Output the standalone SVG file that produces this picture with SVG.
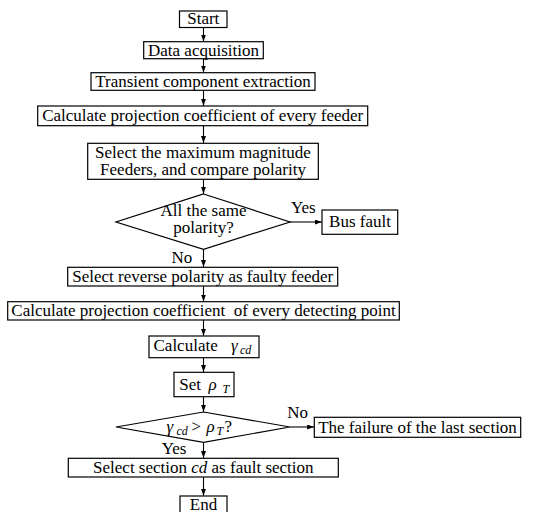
<svg xmlns="http://www.w3.org/2000/svg" width="536" height="512" viewBox="0 0 536 512" font-family="'Liberation Serif', 'Times New Roman', Times, 'DejaVu Serif', serif">
<defs>
<marker id="ah" markerUnits="userSpaceOnUse" markerWidth="8" markerHeight="6" refX="7" refY="2.5" orient="auto">
<path d="M0,0 L7,2.5 L0,5 z" fill="#000"/>
</marker>
</defs>
<style>
rect, polygon { fill: #fff; stroke: #000; stroke-width: 1.2; }
text { font-family: 'Liberation Serif', 'Times New Roman', Times, 'DejaVu Serif', serif; font-size: 17px; fill: #000; }
.c { text-anchor: middle; }
.i { font-style: italic; }
.s { font-size: 12px; font-style: italic; }
#connectors line { stroke: #000; stroke-width: 1.1; marker-end: url(#ah); }
</style>
<rect x="0" y="0" width="536" height="512" style="fill:#fff;stroke:none"/>
<g id="connectors">
<line x1="203.5" y1="27.5" x2="203.5" y2="41.5"/>
<line x1="203.5" y1="58.7" x2="203.5" y2="72.5"/>
<line x1="203.5" y1="90.3" x2="203.5" y2="105.8"/>
<line x1="203.5" y1="125.7" x2="203.5" y2="143.1"/>
<line x1="203.5" y1="179.3" x2="203.5" y2="193.8"/>
<line x1="290" y1="222" x2="321.8" y2="222"/>
<line x1="203.5" y1="249.3" x2="203.5" y2="267.1"/>
<line x1="203.5" y1="286" x2="203.5" y2="301.5"/>
<line x1="203.5" y1="320" x2="203.5" y2="335.8"/>
<line x1="203.5" y1="357.7" x2="203.5" y2="372.1"/>
<line x1="203.5" y1="396.7" x2="203.5" y2="411.8"/>
<line x1="290" y1="427" x2="314.1" y2="427"/>
<line x1="203.5" y1="442.3" x2="203.5" y2="458.1"/>
<line x1="203.5" y1="477" x2="203.5" y2="495.8"/>
</g>
<g id="start"><rect x="179.5" y="11" width="47.5" height="16.5"/><text class="c" x="203.3" y="24">Start</text></g>
<g id="data"><rect x="143.7" y="41.7" width="119.6" height="17"/><text class="c" x="203.5" y="55.5">Data acquisition</text></g>
<g id="transient"><rect x="91" y="72.7" width="224" height="17.6"/><text class="c" x="203" y="87">Transient component extraction</text></g>
<g id="calcfeeder"><rect x="37.7" y="106" width="330" height="19.7"/><text class="c" x="202.7" y="121">Calculate projection coefficient of every feeder</text></g>
<g id="selectmax"><rect x="87.7" y="143.3" width="230.6" height="36"/><text class="c" x="203" y="158">Select the maximum magnitude</text><text class="c" x="203" y="175">Feeders, and compare polarity</text></g>
<g id="decision1"><polygon points="203.5,194 290,222 203.5,249.3 116,222"/><text class="c" x="203.5" y="216">All the same</text><text class="c" x="203.5" y="233">polarity?</text></g>
<g id="busfault"><rect x="322" y="210" width="75.7" height="24.3"/><text class="c" x="360" y="227">Bus fault</text></g>
<g id="label-yes1"><text x="291" y="212.5">Yes</text></g>
<g id="label-no1"><text x="171.5" y="262.5">No</text></g>
<g id="reverse"><rect x="67.7" y="267.3" width="270" height="18.7"/><text class="c" x="202.7" y="281.5">Select reverse polarity as faulty feeder</text></g>
<g id="calcpoint"><rect x="7.7" y="301.7" width="391.6" height="18.3"/><text class="c" x="203.5" y="316" xml:space="preserve">Calculate projection coefficient  of every detecting point</text></g>
<g id="calcgamma"><rect x="149" y="336" width="110" height="21.7"/><text x="153.5" y="351">Calculate</text><text class="i" x="231" y="351">γ</text><text class="s" x="240" y="354">cd</text></g>
<g id="setrho"><rect x="174" y="372.3" width="60" height="24.4"/><text x="179.3" y="390">Set</text><text class="i" x="208.5" y="390">ρ</text><text class="s" x="222.5" y="393">T</text></g>
<g id="decision2"><polygon points="203.5,412 290,427 203.5,442.3 116,427"/><text class="i" x="166.5" y="432">γ</text><text class="s" x="176.5" y="435">cd</text><text x="191.5" y="432">&gt;</text><text class="i" x="206.5" y="432">ρ</text><text class="s" x="216.5" y="435">T</text><text x="224.5" y="432">?</text></g>
<g id="label-no2"><text x="287.3" y="418.3">No</text></g>
<g id="failure"><rect x="314.3" y="417.3" width="206.4" height="20"/><text class="c" x="417.5" y="432.5">The failure of the last section</text></g>
<g id="label-yes2"><text x="161.7" y="454">Yes</text></g>
<g id="selectcd"><rect x="68.3" y="458.3" width="270" height="18.7"/><text class="c" x="203.3" y="472.5">Select section <tspan class="i">cd</tspan> as fault section</text></g>
<g id="end"><rect x="180" y="496" width="47" height="20"/><text class="c" x="203.5" y="509.5">End</text></g>
</svg>
